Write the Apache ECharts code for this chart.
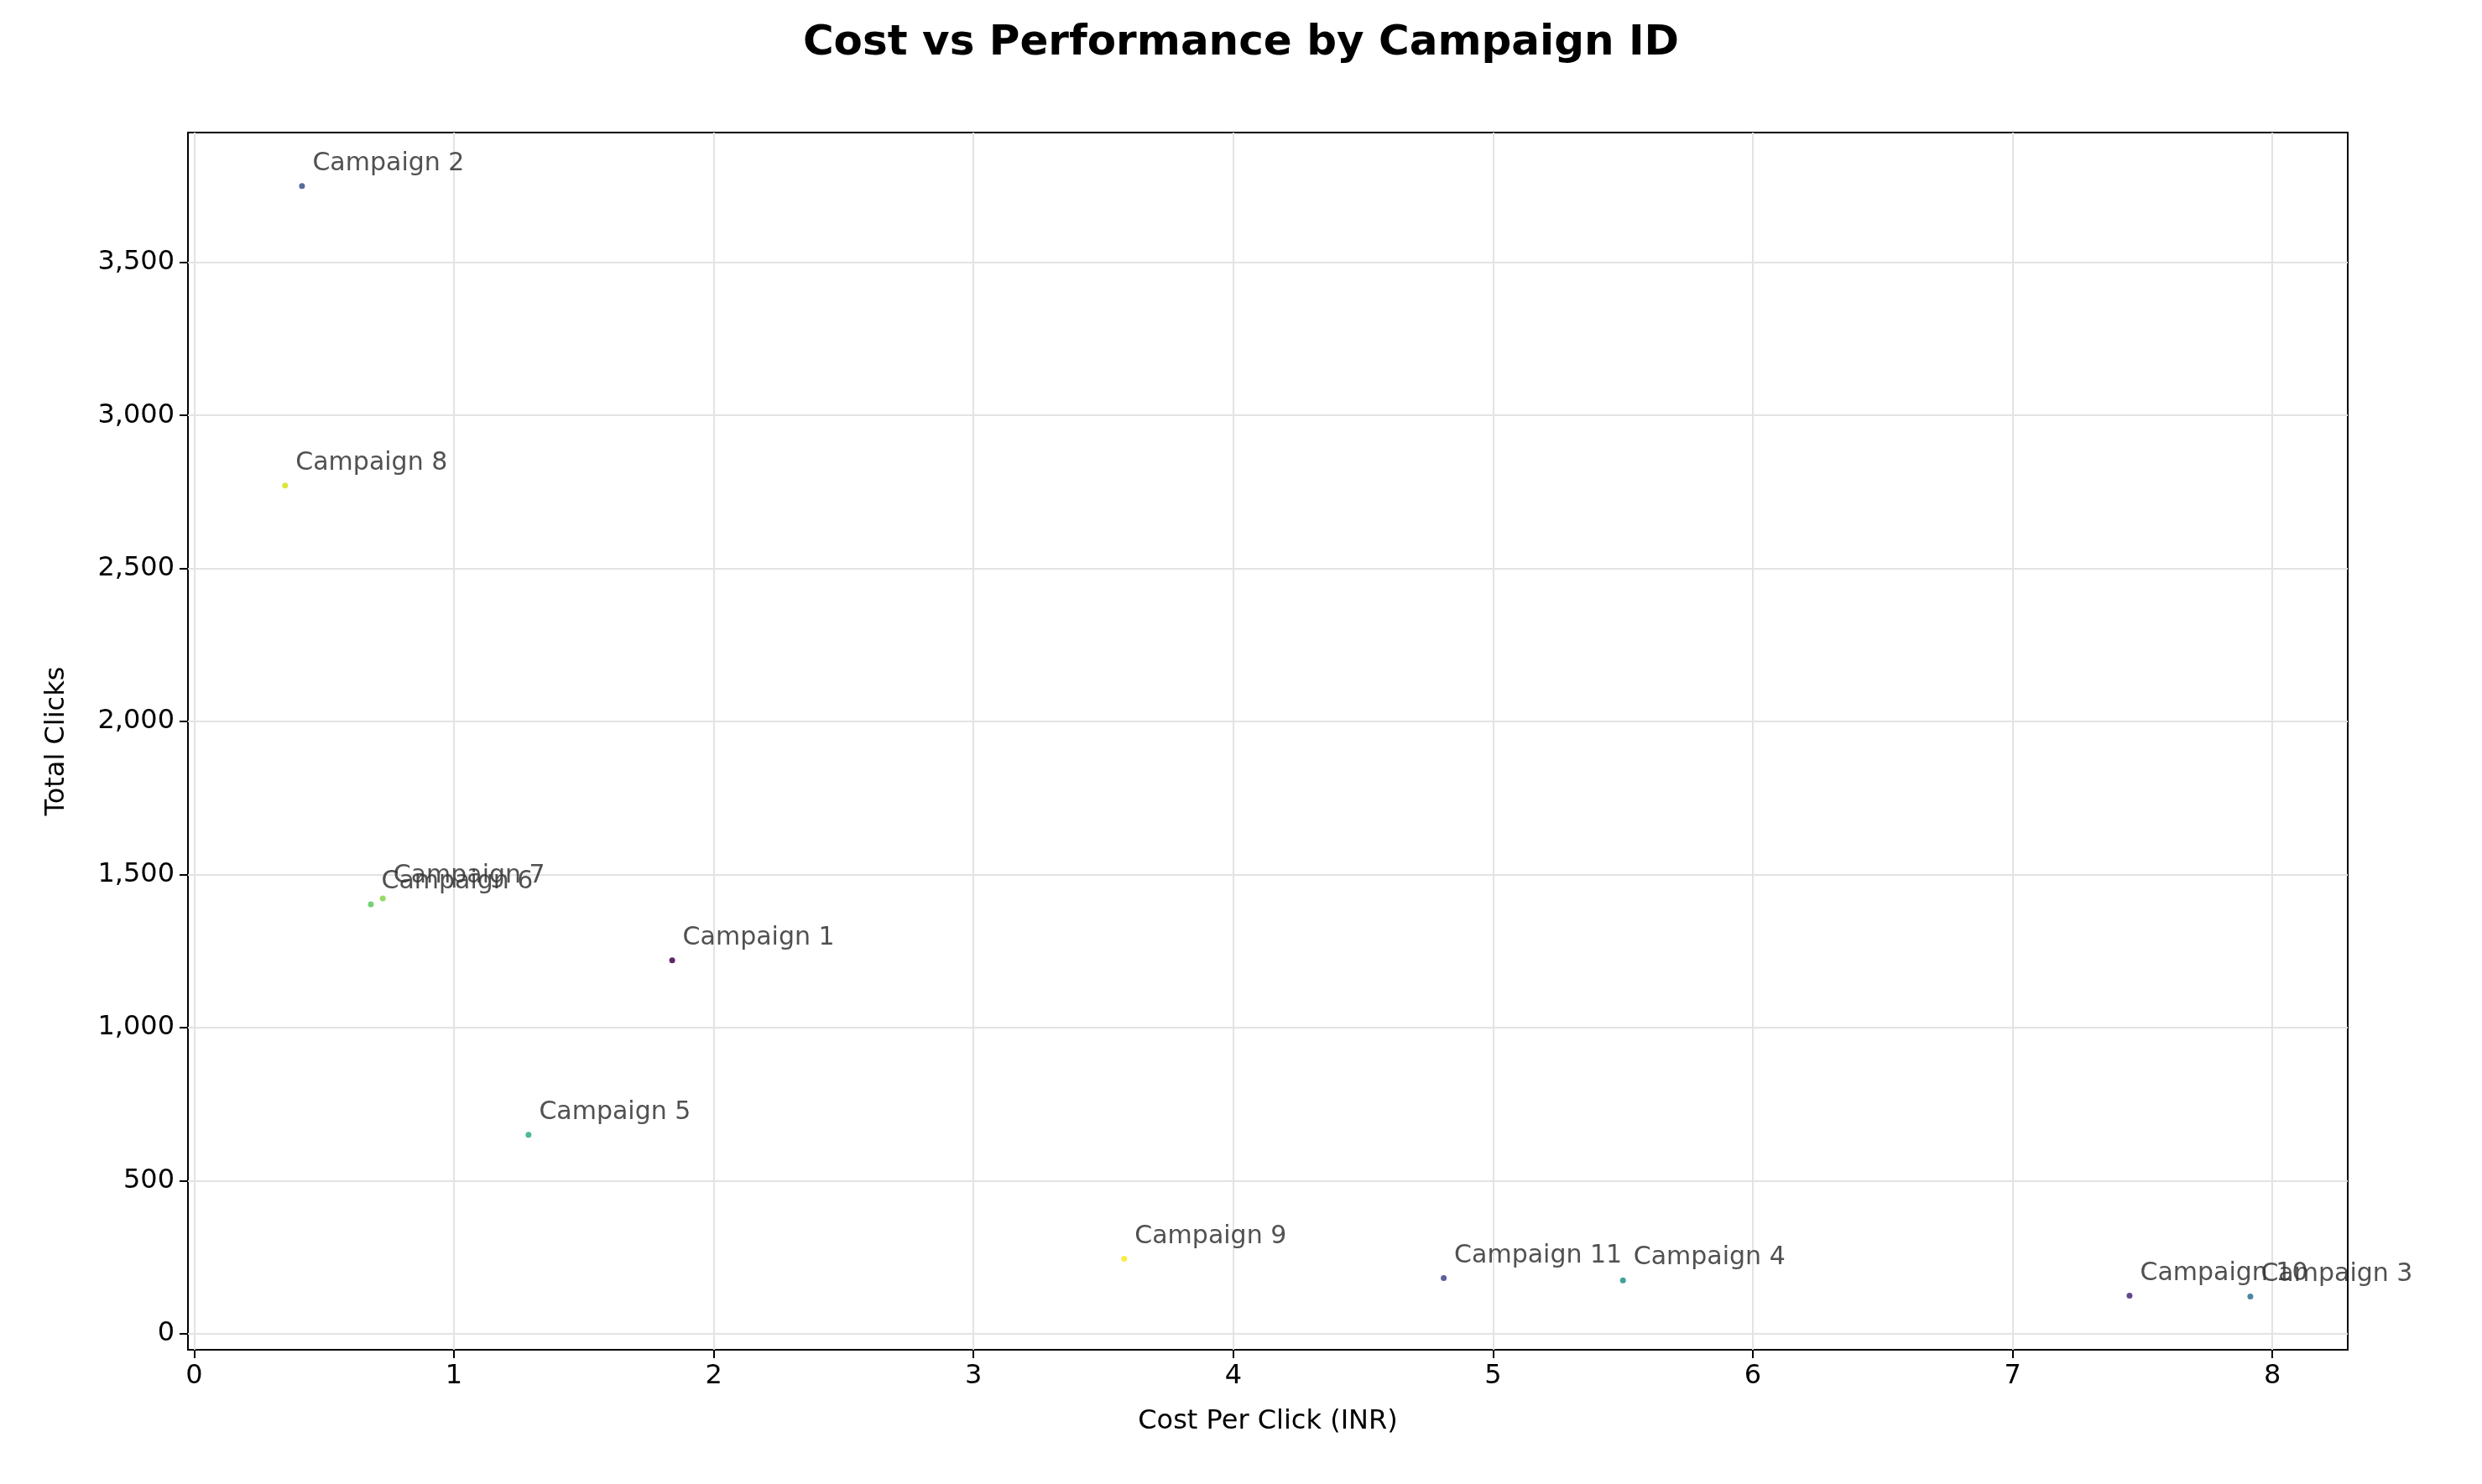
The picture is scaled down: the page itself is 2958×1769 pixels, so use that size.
<!DOCTYPE html>
<html>
<head>
<meta charset="utf-8">
<script src="https://cdn.jsdelivr.net/npm/echarts@6/dist/echarts.min.js"></script>
<style>html,body{margin:0;padding:0;background:#fff}#chart{width:2958px;height:1769px}</style>
</head>
<body>
<div id="chart"></div>
<script>
// campaign data
var names = ['Campaign 1', 'Campaign 2', 'Campaign 3', 'Campaign 4', 'Campaign 5', 'Campaign 6',
	'Campaign 7', 'Campaign 8', 'Campaign 9', 'Campaign 10', 'Campaign 11'];
var costPerClick = [1.84, 0.415, 7.915, 5.50, 1.287, 0.68, 0.726, 0.35, 3.58, 7.45, 4.81];
var totalClicks = [1220, 3749, 122, 175, 650, 1403, 1422, 2771, 245, 125, 182];
var colors = ['#440154', '#3b528b', '#2c728e', '#21918c', '#28ae80', '#5ec962',
	'#84d44b', '#d2e21b', '#fde725', '#482878', '#414487'];
var xTicks = [0, 1, 2, 3, 4, 5, 6, 7, 8];
var yTicks = [0, 500, 1000, 1500, 2000, 2500, 3000, 3500];

var points = [];
for (var i = 0; i < names.length; i++) {
	points.push({
		value: [costPerClick[i], totalClicks[i]],
		name: names[i],
		itemStyle: { color: colors[i] }
	});
}

// grid lines as mark lines, since ticks do not start at the axis min
var gridLines = [];
xTicks.forEach(function (v) { gridLines.push({ xAxis: v }); });
yTicks.forEach(function (v) { gridLines.push({ yAxis: v }); });

var font = 'DejaVu Sans';
var axisCommon = function (ticks) {
	return {
		axisLine: { show: true, onZero: false, lineStyle: { color: '#000', width: 2 } },
		axisTick: { show: true, length: 10, customValues: ticks, lineStyle: { color: '#000', width: 2 } },
		axisLabel: { fontFamily: font, fontSize: 32, color: '#000', margin: 16, customValues: ticks },
		splitLine: { show: false }
	};
};

var xAxis = Object.assign({
	type: 'value', min: -0.024, max: 8.29,
	name: 'Cost Per Click (INR)', nameLocation: 'middle', nameGap: 70,
	nameTextStyle: { fontFamily: font, fontSize: 32, color: '#000' }
}, axisCommon(xTicks));
var yAxis = Object.assign({
	type: 'value', min: -52, max: 3924,
	name: 'Total Clicks', nameLocation: 'middle', nameGap: 140,
	nameTextStyle: { fontFamily: font, fontSize: 32, color: '#000' }
}, axisCommon(yTicks));

var option = {
	backgroundColor: '#fff',
	title: {
		text: 'Cost vs Performance by Campaign ID',
		left: 'center', top: 22,
		textStyle: { fontFamily: font, fontSize: 50, fontWeight: 'bold', color: '#000' }
	},
	grid: {
		left: 224, right: 160, top: 158, bottom: 160,
		show: true, borderColor: '#000', borderWidth: 2
	},
	xAxis: xAxis,
	yAxis: yAxis,
	series: [{
		type: 'scatter',
		symbolSize: 7,
		z: 3,
		data: points,
		itemStyle: { opacity: 0.85 },
		label: {
			show: true,
			position: [16, -38],
			formatter: '{b}',
			fontFamily: font, fontSize: 30, color: '#333'
		},
		markLine: {
			silent: true,
			symbol: 'none',
			label: { show: false },
			lineStyle: { color: '#e3e3e3', width: 2, type: 'solid' },
			emphasis: { disabled: true },
			z: 1,
			data: gridLines
		}
	}]
};

var myChart = echarts.init(document.getElementById('chart'));
myChart.setOption(option);
</script>
</body>
</html>
